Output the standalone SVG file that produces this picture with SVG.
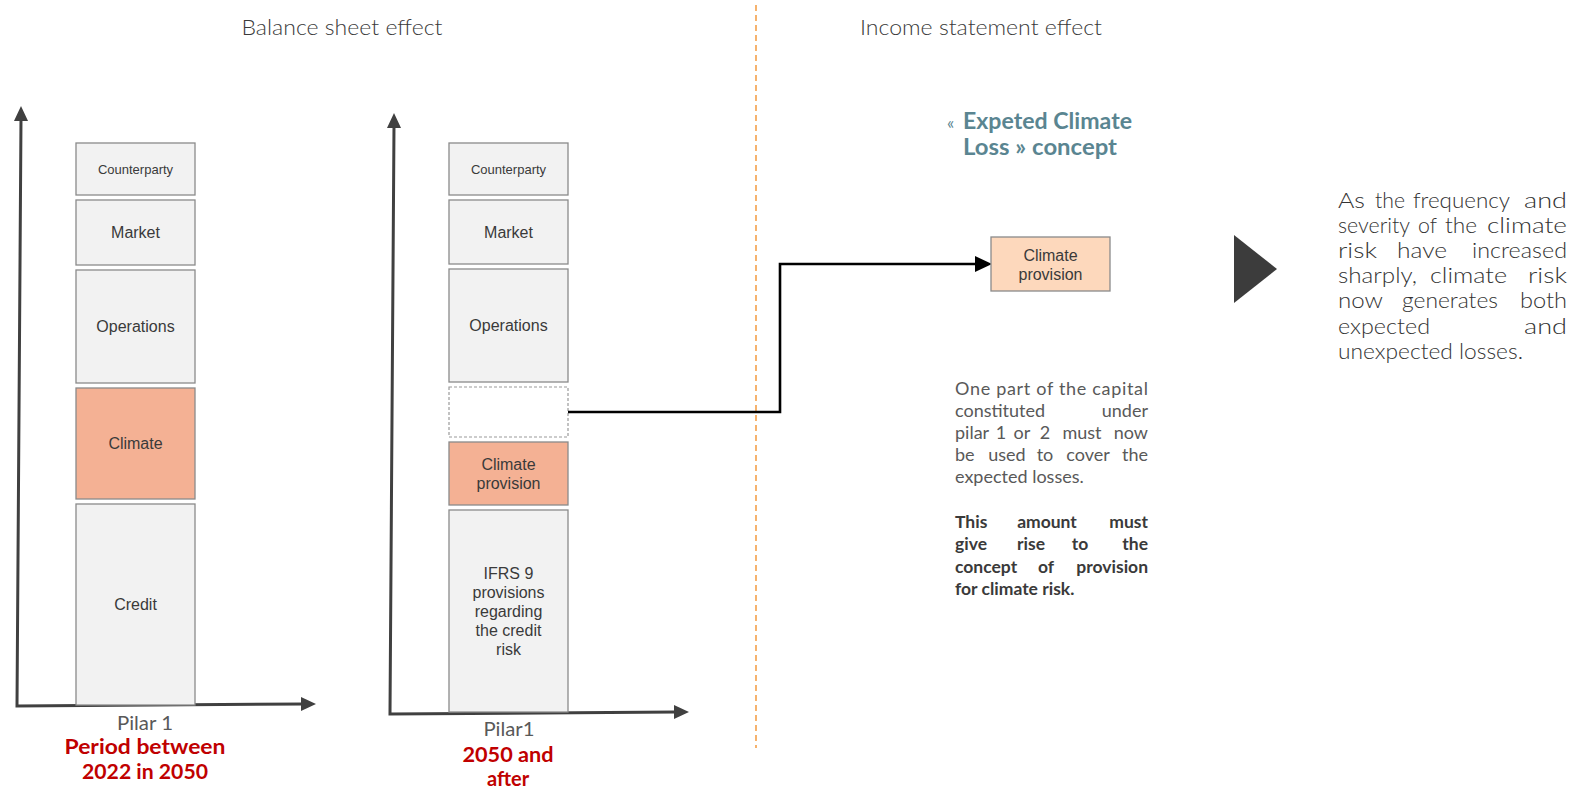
<svg xmlns="http://www.w3.org/2000/svg" width="1575" height="790" viewBox="0 0 1575 790">
<style>
.bx{fill:#f2f2f2;stroke:#8a8a8a;stroke-width:1.3}
.cl{fill:#f4b194;stroke:#8a8a8a;stroke-width:1.3}
.cp{fill:#fdd8bc;stroke:#8a8a8a;stroke-width:1.3}
.dsh{fill:#ffffff;stroke:#9a9a9a;stroke-width:1.2;stroke-dasharray:3,2}
.ax{stroke:#404040;stroke-width:3;fill:none}
.ah{fill:#404040}
.lb{font-family:"Liberation Sans",Arial,sans-serif;font-size:16px;fill:#3a3a3a;text-anchor:middle}
.lbs{font-family:"Liberation Sans",Arial,sans-serif;font-size:13px;fill:#3a3a3a;text-anchor:middle}
.tt{font-family:Lato,"Noto Sans",sans-serif;font-weight:300;font-size:21px;fill:#3a3a3a;text-anchor:middle}
.pl{font-family:Lato,"Noto Sans",sans-serif;font-weight:400;font-size:20px;fill:#595959;text-anchor:middle}
.red{font-family:Lato,"Noto Sans",sans-serif;font-weight:700;font-size:20px;fill:#c00000;text-anchor:middle}
.teal{font-family:Lato,"Noto Sans",sans-serif;font-weight:700;font-size:22px;fill:#5a8591;text-anchor:middle}
.tl{font-family:Lato,"Noto Sans",sans-serif;font-weight:400;font-size:17px;fill:#5a8591}
.pt{font-family:Lato,"Noto Sans",sans-serif;font-weight:400;font-size:18px;fill:#595959}
.pb{font-family:Lato,"Noto Sans",sans-serif;font-weight:700;font-size:17.5px;fill:#3a3a3a}
.rt{font-family:Lato,"Noto Sans",sans-serif;font-weight:300;font-size:21px;fill:#333}
.m{text-anchor:middle}
.e{text-anchor:end}
</style>

<g id="titles">
<text class="tt" x="342" y="35" textLength="201" lengthAdjust="spacingAndGlyphs">Balance sheet effect</text>
<text class="tt" x="981" y="35" textLength="242" lengthAdjust="spacingAndGlyphs">Income statement effect</text>
</g>

<g id="divider">
<line x1="756" y1="5" x2="756" y2="748" stroke="#f4a04a" stroke-width="1.6" stroke-dasharray="6,4"/>
</g>

<g id="chart-left">
<path class="ax" d="M21,118 L17,706 L304,704"/>
<polygon class="ah" points="21,106 14,121 28,121"/>
<polygon class="ah" points="316,704 301,697 301,711"/>
</g>

<g id="chart-mid">
<path class="ax" d="M394,125 L390,714 L676,712"/>
<polygon class="ah" points="394,113 387,128 401,128"/>
<polygon class="ah" points="689,712 674,705 674,719"/>
</g>

<g id="left-counterparty"><rect class="bx" x="76" y="143" width="119" height="52"/><text class="lbs" x="135.5" y="174">Counterparty</text></g>
<g id="left-market"><rect class="bx" x="76" y="200" width="119" height="65"/><text class="lb" x="135.5" y="238">Market</text></g>
<g id="left-operations"><rect class="bx" x="76" y="270" width="119" height="113"/><text class="lb" x="135.5" y="332">Operations</text></g>
<g id="left-climate"><rect class="cl" x="76" y="388" width="119" height="111"/><text class="lb" x="135.5" y="449">Climate</text></g>
<g id="left-credit"><rect class="bx" x="76" y="504" width="119" height="201"/><text class="lb" x="135.5" y="610">Credit</text></g>

<g id="left-label">
<text class="pl" x="145" y="730" textLength="56" lengthAdjust="spacingAndGlyphs">Pilar 1</text>
<text class="red" x="145" y="754" textLength="161" lengthAdjust="spacingAndGlyphs">Period between</text>
<text class="red" x="145" y="779" textLength="126" lengthAdjust="spacingAndGlyphs">2022 in 2050</text>
</g>

<g id="mid-counterparty"><rect class="bx" x="449" y="143" width="119" height="52"/><text class="lbs" x="508.5" y="174">Counterparty</text></g>
<g id="mid-market"><rect class="bx" x="449" y="200" width="119" height="64"/><text class="lb" x="508.5" y="238">Market</text></g>
<g id="mid-operations"><rect class="bx" x="449" y="269" width="119" height="113"/><text class="lb" x="508.5" y="331">Operations</text></g>
<g id="mid-freed"><rect class="dsh" x="449" y="387" width="119" height="50"/></g>
<g id="mid-climate-provision"><rect class="cl" x="449" y="442" width="119" height="63"/><text class="lb" x="508.5" y="470">Climate</text><text class="lb" x="508.5" y="489">provision</text></g>
<g id="mid-ifrs9"><rect class="bx" x="449" y="510" width="119" height="202"/>
<text class="lb" x="508.5" y="579">IFRS 9</text>
<text class="lb" x="508.5" y="598">provisions</text>
<text class="lb" x="508.5" y="617">regarding</text>
<text class="lb" x="508.5" y="636">the credit</text>
<text class="lb" x="508.5" y="655">risk</text>
</g>

<g id="mid-label">
<text class="pl" x="509" y="736" textLength="51" lengthAdjust="spacingAndGlyphs">Pilar1</text>
<text class="red" x="508" y="762" textLength="91" lengthAdjust="spacingAndGlyphs">2050 and</text>
<text class="red" x="508" y="786">after</text>
</g>

<g id="connectors">
<polyline points="568,412 780,412 780,264 977,264" fill="none" stroke="#000" stroke-width="2.6"/>
<polygon points="992,264 975,256 975,272" fill="#000"/>
</g>

<g id="ecl-title">
<text class="tl" x="947" y="129">«</text>
<text class="teal" x="1047.5" y="129" textLength="169" lengthAdjust="spacingAndGlyphs">Expeted Climate</text>
<text class="teal" x="1040" y="155" textLength="154" lengthAdjust="spacingAndGlyphs">Loss » concept</text>
</g>

<g id="right-climate-provision"><rect class="cp" x="991" y="237" width="119" height="54"/><text class="lb" x="1050.5" y="261">Climate</text><text class="lb" x="1050.5" y="280">provision</text></g>

<g id="paragraph">
<text class="pt" x="955" y="395" textLength="193" lengthAdjust="spacing">One part of the capital</text>
<text class="pt" x="955" y="417">constituted</text><text class="pt e" x="1148" y="417">under</text>
<text class="pt" x="955" y="439">pilar</text><text class="pt m" x="1001" y="439">1</text><text class="pt m" x="1022" y="439">or</text><text class="pt m" x="1045" y="439">2</text><text class="pt m" x="1082" y="439">must</text><text class="pt e" x="1148" y="439">now</text>
<text class="pt" x="955" y="461">be</text><text class="pt m" x="1007" y="461">used</text><text class="pt m" x="1045" y="461">to</text><text class="pt m" x="1088" y="461">cover</text><text class="pt e" x="1148" y="461">the</text>
<text class="pt" x="955" y="483">expected losses.</text>
<text class="pb" x="955" y="528">This</text><text class="pb m" x="1047" y="528">amount</text><text class="pb e" x="1148" y="528">must</text>
<text class="pb" x="955" y="550">give</text><text class="pb m" x="1031" y="550">rise</text><text class="pb m" x="1080" y="550">to</text><text class="pb e" x="1148" y="550">the</text>
<text class="pb" x="955" y="573">concept</text><text class="pb m" x="1046" y="573">of</text><text class="pb e" x="1148" y="573">provision</text>
<text class="pb" x="955" y="595">for climate risk.</text>
</g>

<g id="arrow-triangle"><polygon points="1234,235 1277,269 1234,303" fill="#3c3c3c"/></g>

<g id="conclusion">
<text class="rt" x="1338" y="208" textLength="27" lengthAdjust="spacingAndGlyphs">As</text><text class="rt" x="1375" y="208" textLength="30" lengthAdjust="spacingAndGlyphs">the</text><text class="rt" x="1413" y="208" textLength="97" lengthAdjust="spacingAndGlyphs">frequency</text><text class="rt" x="1524" y="208" textLength="43" lengthAdjust="spacingAndGlyphs">and</text>
<text class="rt" x="1338" y="233" textLength="72" lengthAdjust="spacingAndGlyphs">severity</text><text class="rt" x="1418" y="233" textLength="19" lengthAdjust="spacingAndGlyphs">of</text><text class="rt" x="1445" y="233" textLength="32" lengthAdjust="spacingAndGlyphs">the</text><text class="rt" x="1487" y="233" textLength="80" lengthAdjust="spacingAndGlyphs">climate</text>
<text class="rt" x="1338" y="258" textLength="39" lengthAdjust="spacingAndGlyphs">risk</text><text class="rt" x="1397" y="258" textLength="50" lengthAdjust="spacingAndGlyphs">have</text><text class="rt" x="1472" y="258" textLength="95" lengthAdjust="spacingAndGlyphs">increased</text>
<text class="rt" x="1338" y="283" textLength="79" lengthAdjust="spacingAndGlyphs">sharply,</text><text class="rt" x="1430" y="283" textLength="77" lengthAdjust="spacingAndGlyphs">climate</text><text class="rt" x="1528" y="283" textLength="39" lengthAdjust="spacingAndGlyphs">risk</text>
<text class="rt" x="1338" y="308" textLength="45" lengthAdjust="spacingAndGlyphs">now</text><text class="rt" x="1402" y="308" textLength="96" lengthAdjust="spacingAndGlyphs">generates</text><text class="rt" x="1520" y="308" textLength="47" lengthAdjust="spacingAndGlyphs">both</text>
<text class="rt" x="1338" y="334" textLength="92" lengthAdjust="spacingAndGlyphs">expected</text><text class="rt" x="1524" y="334" textLength="43" lengthAdjust="spacingAndGlyphs">and</text>
<text class="rt" x="1338" y="359" textLength="185" lengthAdjust="spacingAndGlyphs">unexpected losses.</text>
</g>
</svg>
